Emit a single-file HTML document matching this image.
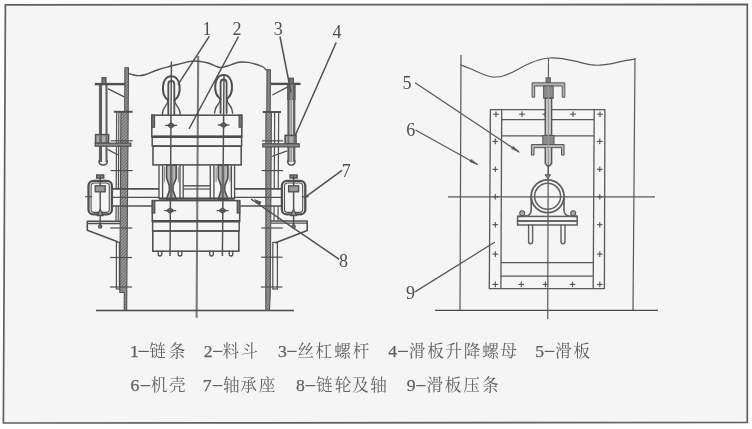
<!DOCTYPE html>
<html lang="zh"><head><meta charset="utf-8"><title>Figure</title>
<style>
html,body{margin:0;padding:0;background:#fcfcfc;overflow:hidden;}
body{width:752px;height:429px;overflow:hidden;position:relative;font-family:"Liberation Serif",serif;}
svg{position:absolute;left:0;top:0;display:block;}
svg text{font-family:"Liberation Serif",serif;}
.cap{position:absolute;left:130px;margin:0;font-size:16px;line-height:18px;color:transparent;white-space:nowrap;font-family:"Liberation Serif",serif;}
</style></head><body>
<svg width="752" height="429" viewBox="0 0 752 429">
<defs>
<pattern id="hatch" width="2.2" height="2.2" patternUnits="userSpaceOnUse" patternTransform="rotate(45)">
<rect width="2.2" height="2.2" fill="#989898"/><line x1="0" y1="0" x2="0" y2="2.2" stroke="#5c5c5c" stroke-width="1.2"/>
</pattern>
<filter id="soft" x="-2%" y="-2%" width="104%" height="104%"><feGaussianBlur stdDeviation="0.32"/></filter>
</defs>
<g filter="url(#soft)">
<polygon points="5.4,4.8 747.3,4.4 747.3,422.4 3.4,423" fill="#f5f5f5" stroke="#5e5e5e" stroke-width="1.7"/>
<g id="left">
<line x1="198.2" y1="56" x2="196.6" y2="317.7" stroke="#7a7a7a" stroke-width="2.04" />
<line x1="96" y1="310.5" x2="294" y2="310.5" stroke="#484848" stroke-width="1.62" />
<path d="M128.8 73.6 C129.5 73.8 131.47 74.47 133 74.8 C134.53 75.13 136 75.6 138 75.6 C140 75.6 141.67 75.78 145 74.8 C148.33 73.82 153.6 71.17 158 69.7 C162.4 68.23 166.23 67.35 171.4 66 C176.57 64.65 184.57 62.4 189 61.6 C193.43 60.8 194.83 60.97 198 61.2 C201.17 61.43 204.33 61.95 208 63 C211.67 64.05 216.83 67 220 67.5 C223.17 68 223.83 66.87 227 66 C230.17 65.13 235.5 62.9 239 62.3 C242.5 61.7 244.92 61.98 248 62.4 C251.08 62.82 255 64.03 257.5 64.8 C260 65.57 261.5 66.13 263 67 C264.5 67.87 265.92 69.5 266.5 70" fill="none" stroke="#505050" stroke-width="1.44" stroke-linejoin="round" stroke-linecap="round"/>
<polygon points="124.9,67.8 128.5,67.8 128.2,111.5 126.8,292.5 126.7,310.3 124.2,310.3 124.3,292.5 119.8,292.5 120.9,111.5 124.7,111.5" fill="url(#hatch)" stroke="#505050" stroke-width="1.08" stroke-linejoin="miter"/>
<line x1="116.68" y1="111.5" x2="116.21" y2="189" stroke="#505050" stroke-width="1.2" />
<line x1="118.88" y1="111.5" x2="118.41" y2="189" stroke="#505050" stroke-width="1.2" />
<line x1="116.1" y1="206" x2="116.01" y2="221" stroke="#505050" stroke-width="1.2" />
<line x1="118.3" y1="206" x2="118.21" y2="221" stroke="#505050" stroke-width="1.2" />
<rect x="116.4" y="242.2" width="3" height="46.8" rx="0" fill="none" stroke="#505050" stroke-width="1.2"/>
<line x1="113.8" y1="111.8" x2="132.6" y2="111.8" stroke="#505050" stroke-width="1.92" />
<line x1="110.8" y1="140.8" x2="132.8" y2="140.8" stroke="#505050" stroke-width="1.2" />
<line x1="110.62" y1="170.6" x2="132.62" y2="170.6" stroke="#505050" stroke-width="1.2" />
<line x1="110.27" y1="228" x2="132.27" y2="228" stroke="#505050" stroke-width="1.2" />
<line x1="110.09" y1="257.5" x2="132.09" y2="257.5" stroke="#505050" stroke-width="1.2" />
<line x1="109.91" y1="287" x2="131.91" y2="287" stroke="#505050" stroke-width="1.2" />
<polygon points="267,69.8 270.4,69.8 270.2,112 271.4,112 270.3,292.5 269.5,310.3 265.8,310.3 265.8,292.5 265.9,112 266.8,112" fill="url(#hatch)" stroke="#505050" stroke-width="1.08" stroke-linejoin="miter"/>
<line x1="274.68" y1="112" x2="274.21" y2="189" stroke="#505050" stroke-width="1.2" />
<line x1="278.68" y1="112" x2="278.21" y2="189" stroke="#505050" stroke-width="1.2" />
<line x1="274.1" y1="206" x2="274.01" y2="221" stroke="#505050" stroke-width="1.2" />
<line x1="278.1" y1="206" x2="278.01" y2="221" stroke="#505050" stroke-width="1.2" />
<rect x="272.8" y="242.4" width="4.6" height="46.6" rx="0" fill="none" stroke="#505050" stroke-width="1.2"/>
<line x1="262.6" y1="112" x2="281" y2="112" stroke="#505050" stroke-width="1.92" />
<line x1="261.8" y1="140.8" x2="283.3" y2="140.8" stroke="#505050" stroke-width="1.2" />
<line x1="261.62" y1="170.6" x2="283.12" y2="170.6" stroke="#505050" stroke-width="1.2" />
<line x1="261.27" y1="228" x2="282.77" y2="228" stroke="#505050" stroke-width="1.2" />
<line x1="261.09" y1="257.2" x2="282.59" y2="257.2" stroke="#505050" stroke-width="1.2" />
<line x1="260.91" y1="287" x2="282.41" y2="287" stroke="#505050" stroke-width="1.2" />
<line x1="94.8" y1="84.1" x2="125" y2="84.1" stroke="#505050" stroke-width="2.4" />
<rect x="102" y="77.7" width="4" height="6" rx="0" fill="#777" stroke="#505050" stroke-width="1.2"/>
<line x1="100.5" y1="85" x2="100.5" y2="162" stroke="#5e5e5e" stroke-width="3.12" />
<line x1="106.5" y1="85" x2="106.5" y2="162" stroke="#5e5e5e" stroke-width="2.04" />
<path d="M98.9 161 Q98.9 165 103 165 Q107.4 165 107.4 161" fill="none" stroke="#505050" stroke-width="1.44" stroke-linejoin="round" stroke-linecap="round"/>
<rect x="95.6" y="134.6" width="13" height="8.6" rx="0" fill="#aaa" stroke="#505050" stroke-width="1.56"/>
<line x1="100.5" y1="135" x2="100.5" y2="143" stroke="#707070" stroke-width="3.12" />
<line x1="106.5" y1="135" x2="106.5" y2="143" stroke="#707070" stroke-width="2.04" />
<rect x="95.2" y="143.2" width="35.6" height="3" rx="0" fill="#8a8a8a" stroke="#505050" stroke-width="1.2"/>
<line x1="107.8" y1="88.7" x2="124.2" y2="96.9" stroke="#505050" stroke-width="1.32" />
<line x1="107.7" y1="149.4" x2="118" y2="155" stroke="#505050" stroke-width="1.32" />
<line x1="270.6" y1="83.9" x2="300.5" y2="83.9" stroke="#505050" stroke-width="2.4" />
<rect x="289.4" y="78.2" width="4" height="6" rx="0" fill="#777" stroke="#505050" stroke-width="1.2"/>
<rect x="287.8" y="84" width="7.1" height="15.5" rx="0" fill="#8a8a8a" stroke="#505050" stroke-width="1.2"/>
<line x1="288.5" y1="85" x2="288.5" y2="162" stroke="#5e5e5e" stroke-width="2.28" />
<line x1="294.2" y1="85" x2="294.2" y2="162" stroke="#5e5e5e" stroke-width="2.28" />
<line x1="291.3" y1="99" x2="291.3" y2="162" stroke="#9a9a9a" stroke-width="2.16" />
<path d="M287.7 161 Q287.7 165.2 291.3 165.2 Q295 165.2 295 161" fill="none" stroke="#505050" stroke-width="1.44" stroke-linejoin="round" stroke-linecap="round"/>
<rect x="285.1" y="135.4" width="10.9" height="8.3" rx="0" fill="#aaa" stroke="#505050" stroke-width="1.56"/>
<line x1="288.4" y1="136" x2="288.4" y2="143.5" stroke="#707070" stroke-width="1.8" />
<line x1="294.3" y1="136" x2="294.3" y2="143.5" stroke="#707070" stroke-width="1.8" />
<rect x="262.8" y="143.8" width="36.4" height="3.1" rx="0" fill="#8a8a8a" stroke="#505050" stroke-width="1.2"/>
<line x1="272.4" y1="95" x2="287.8" y2="86.8" stroke="#505050" stroke-width="1.32" />
<line x1="271.7" y1="156.5" x2="287" y2="150.8" stroke="#505050" stroke-width="1.32" />
<path d="M168.1 100.3 C160.3 94.3 161.3 76.3 171.3 76.3 C181.3 76.3 182.3 94.3 174.5 100.3" fill="none" stroke="#505050" stroke-width="2.04" stroke-linejoin="round" stroke-linecap="round"/>
<path d="M168.3 114.3 L168.3 84.3 Q168.3 80.8 171.3 80.8 Q174.3 80.8 174.3 84.3 L174.3 114.3" fill="none" stroke="#505050" stroke-width="1.8" stroke-linejoin="round" stroke-linecap="round"/>
<path d="M162.3 114.3 C162.3 106.3 167.8 106.3 168.1 100.3" fill="none" stroke="#505050" stroke-width="1.44" stroke-linejoin="round" stroke-linecap="round"/>
<path d="M180.3 114.3 C180.3 106.3 174.8 106.3 174.5 100.3" fill="none" stroke="#505050" stroke-width="1.44" stroke-linejoin="round" stroke-linecap="round"/>
<path d="M220.4 99 C212.6 93 213.6 75 223.6 75 C233.6 75 234.6 93 226.8 99" fill="none" stroke="#505050" stroke-width="2.04" stroke-linejoin="round" stroke-linecap="round"/>
<path d="M220.6 113 L220.6 83 Q220.6 79.5 223.6 79.5 Q226.6 79.5 226.6 83 L226.6 113" fill="none" stroke="#505050" stroke-width="1.8" stroke-linejoin="round" stroke-linecap="round"/>
<path d="M214.6 113 C214.6 105 220.1 105 220.4 99" fill="none" stroke="#505050" stroke-width="1.44" stroke-linejoin="round" stroke-linecap="round"/>
<path d="M232.6 113 C232.6 105 227.1 105 226.8 99" fill="none" stroke="#505050" stroke-width="1.44" stroke-linejoin="round" stroke-linecap="round"/>
<line x1="171.4" y1="61.6" x2="170" y2="256" stroke="#505050" stroke-width="1.44" />
<line x1="224" y1="74" x2="222.4" y2="256" stroke="#505050" stroke-width="1.44" />
<rect x="151.8" y="115.2" width="90" height="21.4" rx="0" fill="none" stroke="#505050" stroke-width="1.56"/>
<rect x="151.8" y="115.2" width="2.7" height="12" rx="0" fill="#777" stroke="#505050" stroke-width="1.2"/>
<rect x="239.1" y="115.2" width="2.7" height="12" rx="0" fill="#777" stroke="#505050" stroke-width="1.2"/>
<line x1="152.4" y1="136.7" x2="241.4" y2="136.7" stroke="#484848" stroke-width="2.52" />
<rect x="152.2" y="136.7" width="89.4" height="9.4" rx="0" fill="none" stroke="#505050" stroke-width="1.44"/>
<rect x="153" y="146.1" width="88.2" height="18.8" rx="0" fill="none" stroke="#505050" stroke-width="1.56"/>
<polygon points="167.7,125.4 171.1,122.8 174.5,125.4 171.1,128" fill="#707070" stroke="#505050" stroke-width="1.2" stroke-linejoin="round" stroke-linecap="round"/>
<line x1="165.1" y1="125.4" x2="177.1" y2="125.4" stroke="#505050" stroke-width="1.2" />
<polygon points="220.2,125 223.6,122.4 227,125 223.6,127.6" fill="#707070" stroke="#505050" stroke-width="1.2" stroke-linejoin="round" stroke-linecap="round"/>
<line x1="217.6" y1="125" x2="229.6" y2="125" stroke="#505050" stroke-width="1.2" />
<line x1="159" y1="165.2" x2="159" y2="199" stroke="#505050" stroke-width="1.32" />
<line x1="162.6" y1="165.2" x2="162.6" y2="199" stroke="#505050" stroke-width="1.32" />
<line x1="180" y1="165.2" x2="180" y2="199" stroke="#505050" stroke-width="1.32" />
<line x1="183.2" y1="165.2" x2="183.2" y2="199" stroke="#505050" stroke-width="1.32" />
<path d="M166.6 165.2 L166.6 178 L169.4 186 L169.4 190.5 L166.6 199 L176.2 199 L173 190.5 L173 186 L176.2 178 L176.2 165.2 Z" fill="#b4b4b4" stroke="#505050" stroke-width="1.68" stroke-linejoin="round" stroke-linecap="round"/>
<line x1="171.2" y1="165.2" x2="171.2" y2="199" stroke="#6a6a6a" stroke-width="2.64" />
<line x1="164.4" y1="167" x2="164.4" y2="182" stroke="#888" stroke-width="1.08" />
<line x1="178.4" y1="167" x2="178.4" y2="182" stroke="#888" stroke-width="1.08" />
<line x1="210.3" y1="165.2" x2="210.3" y2="199" stroke="#505050" stroke-width="1.32" />
<line x1="213.9" y1="165.2" x2="213.9" y2="199" stroke="#505050" stroke-width="1.32" />
<line x1="231.4" y1="165.2" x2="231.4" y2="199" stroke="#505050" stroke-width="1.32" />
<line x1="234.6" y1="165.2" x2="234.6" y2="199" stroke="#505050" stroke-width="1.32" />
<path d="M218.3 165.2 L218.3 178 L221.1 186 L221.1 190.5 L218.3 199 L227.9 199 L224.7 190.5 L224.7 186 L227.9 178 L227.9 165.2 Z" fill="#b4b4b4" stroke="#505050" stroke-width="1.68" stroke-linejoin="round" stroke-linecap="round"/>
<line x1="222.9" y1="165.2" x2="222.9" y2="199" stroke="#6a6a6a" stroke-width="2.64" />
<line x1="216.1" y1="167" x2="216.1" y2="182" stroke="#888" stroke-width="1.08" />
<line x1="230.1" y1="167" x2="230.1" y2="182" stroke="#888" stroke-width="1.08" />
<line x1="183.2" y1="185.8" x2="210.3" y2="185.8" stroke="#505050" stroke-width="1.44" />
<line x1="183.2" y1="189" x2="210.3" y2="189" stroke="#505050" stroke-width="1.2" />
<line x1="159" y1="198.6" x2="234.6" y2="198.6" stroke="#484848" stroke-width="2.16" />
<line x1="111.7" y1="188.9" x2="159" y2="188.9" stroke="#505050" stroke-width="1.56" />
<line x1="111.7" y1="197.3" x2="159" y2="197.3" stroke="#505050" stroke-width="1.32" />
<line x1="234.6" y1="188.9" x2="282" y2="188.9" stroke="#505050" stroke-width="1.56" />
<line x1="234.6" y1="197.3" x2="282" y2="197.3" stroke="#505050" stroke-width="1.32" />
<line x1="111.7" y1="206" x2="152.4" y2="206" stroke="#505050" stroke-width="1.56" />
<line x1="240.4" y1="206" x2="282" y2="206" stroke="#505050" stroke-width="1.56" />
<rect x="152.3" y="200.6" width="87.4" height="20.6" rx="0" fill="none" stroke="#505050" stroke-width="1.56"/>
<rect x="152.3" y="201" width="2.5" height="12" rx="0" fill="#777" stroke="#505050" stroke-width="1.2"/>
<rect x="237.2" y="201" width="2.5" height="12" rx="0" fill="#777" stroke="#505050" stroke-width="1.2"/>
<line x1="152.3" y1="221.2" x2="239.7" y2="221.2" stroke="#484848" stroke-width="2.4" />
<rect x="152.6" y="221.2" width="86.6" height="9.8" rx="0" fill="none" stroke="#505050" stroke-width="1.44"/>
<rect x="152.8" y="231" width="86" height="20.2" rx="0" fill="none" stroke="#505050" stroke-width="1.56"/>
<path d="M158.2 251.2 L158.2 254 Q158.2 256 160 256 Q161.8 256 161.8 254 L161.8 251.2" fill="none" stroke="#505050" stroke-width="1.32" stroke-linejoin="round" stroke-linecap="round"/>
<path d="M178.2 251.2 L178.2 254 Q178.2 256 180 256 Q181.8 256 181.8 254 L181.8 251.2" fill="none" stroke="#505050" stroke-width="1.32" stroke-linejoin="round" stroke-linecap="round"/>
<path d="M209.7 251.2 L209.7 254 Q209.7 256 211.5 256 Q213.3 256 213.3 254 L213.3 251.2" fill="none" stroke="#505050" stroke-width="1.32" stroke-linejoin="round" stroke-linecap="round"/>
<path d="M229.2 251.2 L229.2 254 Q229.2 256 231 256 Q232.8 256 232.8 254 L232.8 251.2" fill="none" stroke="#505050" stroke-width="1.32" stroke-linejoin="round" stroke-linecap="round"/>
<polygon points="166.8,210.6 170.2,208 173.6,210.6 170.2,213.2" fill="#707070" stroke="#505050" stroke-width="1.2" stroke-linejoin="round" stroke-linecap="round"/>
<line x1="164.2" y1="210.6" x2="176.2" y2="210.6" stroke="#505050" stroke-width="1.2" />
<polygon points="219.2,210.6 222.6,208 226,210.6 222.6,213.2" fill="#707070" stroke="#505050" stroke-width="1.2" stroke-linejoin="round" stroke-linecap="round"/>
<line x1="216.6" y1="210.6" x2="228.6" y2="210.6" stroke="#505050" stroke-width="1.2" />
<rect x="88.5" y="180.8" width="23.4" height="33.6" rx="5" fill="none" stroke="#505050" stroke-width="2.28"/>
<rect x="91.1" y="183" width="18.2" height="29.4" rx="3.2" fill="none" stroke="#505050" stroke-width="1.08"/>
<rect x="96.7" y="175" width="7" height="3" rx="0" fill="#888" stroke="#505050" stroke-width="1.44"/>
<line x1="100.2" y1="176" x2="100.2" y2="226" stroke="#505050" stroke-width="1.44" />
<rect x="95.2" y="185.8" width="10" height="6" rx="0" fill="#999" stroke="#505050" stroke-width="1.32"/>
<polygon points="97.2,215.5 100.2,209.5 103.2,215.5" fill="#999" stroke="#505050" stroke-width="1.32" stroke-linejoin="round" stroke-linecap="round"/>
<line x1="85.2" y1="196.7" x2="92.2" y2="196.7" stroke="#505050" stroke-width="1.2" />
<circle cx="100.2" cy="226.5" r="1.6" fill="#888" stroke="#505050" stroke-width="1.2"/>
<rect x="281.9" y="180.8" width="23.4" height="33.6" rx="5" fill="none" stroke="#505050" stroke-width="2.28"/>
<rect x="284.5" y="183" width="18.2" height="29.4" rx="3.2" fill="none" stroke="#505050" stroke-width="1.08"/>
<rect x="290.1" y="175" width="7" height="3" rx="0" fill="#888" stroke="#505050" stroke-width="1.44"/>
<line x1="293.6" y1="176" x2="293.6" y2="226" stroke="#505050" stroke-width="1.44" />
<rect x="288.6" y="185.8" width="10" height="6" rx="0" fill="#999" stroke="#505050" stroke-width="1.32"/>
<polygon points="290.6,215.5 293.6,209.5 296.6,215.5" fill="#999" stroke="#505050" stroke-width="1.32" stroke-linejoin="round" stroke-linecap="round"/>
<line x1="301.6" y1="196.7" x2="308.6" y2="196.7" stroke="#505050" stroke-width="1.2" />
<circle cx="293.6" cy="226.5" r="1.6" fill="#888" stroke="#505050" stroke-width="1.2"/>
<polyline points="120,221.4 87.3,221.4 87.3,230.3 117,241.4" fill="none" stroke="#505050" stroke-width="1.56" stroke-linejoin="round" stroke-linecap="round"/>
<line x1="87.3" y1="223.6" x2="120" y2="223.6" stroke="#505050" stroke-width="1.2" />
<polyline points="271,221 307.2,221 307.2,230.6 275.6,242.8" fill="none" stroke="#505050" stroke-width="1.56" stroke-linejoin="round" stroke-linecap="round"/>
<line x1="271" y1="223.2" x2="307.2" y2="223.2" stroke="#505050" stroke-width="1.2" />
<line x1="209.4" y1="36.1" x2="178" y2="84.6" stroke="#505050" stroke-width="1.5" />
<line x1="238.5" y1="36.5" x2="189" y2="129" stroke="#505050" stroke-width="1.5" />
<line x1="280" y1="36.5" x2="291" y2="92.5" stroke="#505050" stroke-width="1.5" />
<line x1="336.2" y1="42.5" x2="295" y2="136" stroke="#505050" stroke-width="1.5" />
<line x1="342" y1="170.4" x2="306" y2="196.7" stroke="#505050" stroke-width="1.5" />
<line x1="339.2" y1="259.3" x2="251" y2="199" stroke="#505050" stroke-width="1.5" />
<polygon points="255,200 259.5,204.6 260.8,202.4" fill="#505050" stroke="#505050" stroke-width="0.96" stroke-linejoin="round" stroke-linecap="round"/>
<text x="207.1" y="34.6" font-size="18" text-anchor="middle" fill="#4f4f4f">1</text>
<text x="237" y="34.8" font-size="18" text-anchor="middle" fill="#4f4f4f">2</text>
<text x="278.2" y="34.7" font-size="18" text-anchor="middle" fill="#4f4f4f">3</text>
<text x="337.1" y="37.7" font-size="18" text-anchor="middle" fill="#4f4f4f">4</text>
<text x="346.2" y="176.9" font-size="18" text-anchor="middle" fill="#4f4f4f">7</text>
<text x="343.5" y="267" font-size="18" text-anchor="middle" fill="#4f4f4f">8</text>
</g>
<g id="right">
<line x1="461" y1="55" x2="460" y2="310.3" stroke="#585858" stroke-width="1.2" />
<line x1="635" y1="58" x2="633" y2="310.3" stroke="#585858" stroke-width="1.2" />
<path d="M461 65 C462.5 65.58 466.83 67.17 470 68.5 C473.17 69.83 476.67 71.67 480 73 C483.33 74.33 487.33 75.83 490 76.5 C492.67 77.17 493.83 77.08 496 77 C498.17 76.92 500.17 76.83 503 76 C505.83 75.17 509.33 73.75 513 72 C516.67 70.25 520.83 67.47 525 65.5 C529.17 63.53 533.83 61.45 538 60.2 C542.17 58.95 546 58.27 550 58 C554 57.73 557.83 58.07 562 58.6 C566.17 59.13 570.33 60.2 575 61.2 C579.67 62.2 585.83 63.93 590 64.6 C594.17 65.27 596.33 65.37 600 65.2 C603.67 65.03 607.83 64.37 612 63.6 C616.17 62.83 621.17 61.37 625 60.6 C628.83 59.83 633.33 59.27 635 59" fill="none" stroke="#585858" stroke-width="1.2" stroke-linejoin="round" stroke-linecap="round"/>
<line x1="435" y1="310.3" x2="658" y2="310.3" stroke="#484848" stroke-width="1.35" />
<line x1="548.4" y1="98" x2="547.7" y2="319" stroke="#585858" stroke-width="1.2" />
<line x1="448" y1="196.8" x2="655" y2="196.8" stroke="#585858" stroke-width="1.3" />
<polygon points="490.4,109.6 604.9,109.6 604.4,288.6 489.3,288.6" fill="none" stroke="#585858" stroke-width="1.3" stroke-linejoin="round" stroke-linecap="round"/>
<line x1="501.7" y1="109.6" x2="500.9" y2="288.6" stroke="#585858" stroke-width="1.3" />
<line x1="594.2" y1="109.6" x2="593.2" y2="288.6" stroke="#585858" stroke-width="1.3" />
<line x1="501.6" y1="119.6" x2="594.2" y2="119.6" stroke="#585858" stroke-width="1.1" />
<line x1="501.5" y1="135.8" x2="594.1" y2="135.8" stroke="#585858" stroke-width="1.2" />
<line x1="501" y1="262.7" x2="593.3" y2="262.7" stroke="#585858" stroke-width="1.2" />
<line x1="501" y1="276.1" x2="593.3" y2="276.1" stroke="#585858" stroke-width="1.1" />
<line x1="493.2" y1="114.2" x2="498.8" y2="114.2" stroke="#505050" stroke-width="1.1" />
<line x1="496" y1="111.4" x2="496" y2="117" stroke="#505050" stroke-width="1.1" />
<line x1="519.2" y1="114.2" x2="524.8" y2="114.2" stroke="#505050" stroke-width="1.1" />
<line x1="522" y1="111.4" x2="522" y2="117" stroke="#505050" stroke-width="1.1" />
<line x1="570.2" y1="114.2" x2="575.8" y2="114.2" stroke="#505050" stroke-width="1.1" />
<line x1="573" y1="111.4" x2="573" y2="117" stroke="#505050" stroke-width="1.1" />
<line x1="597.2" y1="114.2" x2="602.8" y2="114.2" stroke="#505050" stroke-width="1.1" />
<line x1="600" y1="111.4" x2="600" y2="117" stroke="#505050" stroke-width="1.1" />
<line x1="492.5" y1="141.4" x2="498.1" y2="141.4" stroke="#505050" stroke-width="1.1" />
<line x1="495.3" y1="138.6" x2="495.3" y2="144.2" stroke="#505050" stroke-width="1.1" />
<line x1="597" y1="141.4" x2="602.6" y2="141.4" stroke="#505050" stroke-width="1.1" />
<line x1="599.8" y1="138.6" x2="599.8" y2="144.2" stroke="#505050" stroke-width="1.1" />
<line x1="492.5" y1="169.3" x2="498.1" y2="169.3" stroke="#505050" stroke-width="1.1" />
<line x1="495.3" y1="166.5" x2="495.3" y2="172.1" stroke="#505050" stroke-width="1.1" />
<line x1="597" y1="169.3" x2="602.6" y2="169.3" stroke="#505050" stroke-width="1.1" />
<line x1="599.8" y1="166.5" x2="599.8" y2="172.1" stroke="#505050" stroke-width="1.1" />
<line x1="492.5" y1="196.8" x2="498.1" y2="196.8" stroke="#505050" stroke-width="1.1" />
<line x1="495.3" y1="194" x2="495.3" y2="199.6" stroke="#505050" stroke-width="1.1" />
<line x1="597" y1="196.8" x2="602.6" y2="196.8" stroke="#505050" stroke-width="1.1" />
<line x1="599.8" y1="194" x2="599.8" y2="199.6" stroke="#505050" stroke-width="1.1" />
<line x1="492.5" y1="224.7" x2="498.1" y2="224.7" stroke="#505050" stroke-width="1.1" />
<line x1="495.3" y1="221.9" x2="495.3" y2="227.5" stroke="#505050" stroke-width="1.1" />
<line x1="597" y1="224.7" x2="602.6" y2="224.7" stroke="#505050" stroke-width="1.1" />
<line x1="599.8" y1="221.9" x2="599.8" y2="227.5" stroke="#505050" stroke-width="1.1" />
<line x1="492.5" y1="254.1" x2="498.1" y2="254.1" stroke="#505050" stroke-width="1.1" />
<line x1="495.3" y1="251.3" x2="495.3" y2="256.9" stroke="#505050" stroke-width="1.1" />
<line x1="597" y1="254.1" x2="602.6" y2="254.1" stroke="#505050" stroke-width="1.1" />
<line x1="599.8" y1="251.3" x2="599.8" y2="256.9" stroke="#505050" stroke-width="1.1" />
<line x1="492.5" y1="284.4" x2="498.1" y2="284.4" stroke="#505050" stroke-width="1.1" />
<line x1="495.3" y1="281.6" x2="495.3" y2="287.2" stroke="#505050" stroke-width="1.1" />
<line x1="597" y1="284.4" x2="602.6" y2="284.4" stroke="#505050" stroke-width="1.1" />
<line x1="599.8" y1="281.6" x2="599.8" y2="287.2" stroke="#505050" stroke-width="1.1" />
<line x1="518.5" y1="284.4" x2="524.1" y2="284.4" stroke="#505050" stroke-width="1.1" />
<line x1="521.3" y1="281.6" x2="521.3" y2="287.2" stroke="#505050" stroke-width="1.1" />
<line x1="542.6" y1="284.4" x2="548.2" y2="284.4" stroke="#505050" stroke-width="1.1" />
<line x1="545.4" y1="281.6" x2="545.4" y2="287.2" stroke="#505050" stroke-width="1.1" />
<line x1="569.7" y1="284.4" x2="575.3" y2="284.4" stroke="#505050" stroke-width="1.1" />
<line x1="572.5" y1="281.6" x2="572.5" y2="287.2" stroke="#505050" stroke-width="1.1" />
<line x1="542.4" y1="114.2" x2="548" y2="114.2" stroke="#505050" stroke-width="1.1" />
<line x1="545.2" y1="111.4" x2="545.2" y2="117" stroke="#505050" stroke-width="1.1" />
<line x1="548.5" y1="58.3" x2="548.4" y2="78" stroke="#585858" stroke-width="1.1" />
<rect x="546" y="77.8" width="4.4" height="5" rx="0" fill="#7a7a7a" stroke="#585858" stroke-width="0.9"/>
<path d="M532.1 82.8 H564.8 V97.2 H562.2 V86 H534.7 V97.2 H532.1 Z" fill="#b4b4b4" stroke="#4c4c4c" stroke-width="0.9"/>
<rect x="543.6" y="86" width="9.6" height="12.2" rx="0" fill="#8a8a8a" stroke="#585858" stroke-width="1"/>
<rect x="545.3" y="98.2" width="6.3" height="37.3" rx="0" fill="#cfcfcf" stroke="#585858" stroke-width="1.5"/>
<rect x="542.8" y="135.5" width="11.2" height="9" rx="0" fill="#8a8a8a" stroke="#585858" stroke-width="1"/>
<path d="M531.4 144.5 H564.1 V155.1 H561.5 V147.7 H534 V155.1 H531.4 Z" fill="#b4b4b4" stroke="#4c4c4c" stroke-width="0.9"/>
<path d="M545.3 147.7 V163.2 L547 165.7 H549.8 L551.6 163.2 V147.7" fill="#cfcfcf" stroke="#585858" stroke-width="1.5" stroke-linejoin="round" stroke-linecap="round"/>
<line x1="548.4" y1="86" x2="548.4" y2="165" stroke="#9a9a9a" stroke-width="1.2" />
<line x1="548.3" y1="165.7" x2="548.3" y2="175.5" stroke="#585858" stroke-width="1.1" />
<polygon points="545.4,174.8 550.6,174.8 548,178.4" fill="#888" stroke="#585858" stroke-width="1" stroke-linejoin="round" stroke-linecap="round"/>
<circle cx="547.6" cy="196.3" r="16.4" fill="none" stroke="#5e5e5e" stroke-width="1.8"/>
<circle cx="547.6" cy="196.3" r="13" fill="none" stroke="#5e5e5e" stroke-width="1.5"/>
<path d="M531.2 196.3 L531.2 210.5 Q531 215.6 525 216.2 L518 216.4" fill="none" stroke="#5e5e5e" stroke-width="1.6" stroke-linejoin="round" stroke-linecap="round"/>
<path d="M564 196.3 L564 210.5 Q564.2 215.6 570.2 216.2 L577.2 216.4" fill="none" stroke="#5e5e5e" stroke-width="1.6" stroke-linejoin="round" stroke-linecap="round"/>
<rect x="517.6" y="216.4" width="59.6" height="4.6" rx="0" fill="none" stroke="#5e5e5e" stroke-width="1.5"/>
<rect x="517.6" y="221" width="59.6" height="4" rx="0" fill="none" stroke="#5e5e5e" stroke-width="1.5"/>
<circle cx="522.2" cy="213.3" r="2.5" fill="#aaa" stroke="#585858" stroke-width="1.1"/>
<circle cx="573.2" cy="213.3" r="2.5" fill="#aaa" stroke="#585858" stroke-width="1.1"/>
<path d="M528.6 225 L528.6 241.6 Q528.6 243.8 530.6 243.8 Q532.6 243.8 532.6 241.6 L532.6 225" fill="none" stroke="#5e5e5e" stroke-width="1.4" stroke-linejoin="round" stroke-linecap="round"/>
<path d="M561 225 L561 241.6 Q561 243.8 563 243.8 Q565 243.8 565 241.6 L565 225" fill="none" stroke="#5e5e5e" stroke-width="1.4" stroke-linejoin="round" stroke-linecap="round"/>
<line x1="415.1" y1="82.7" x2="519" y2="152" stroke="#585858" stroke-width="1.25" />
<polygon points="519,152 511.62,148.64 513.07,146.48" fill="#585858" stroke="#585858" stroke-width="0.6" stroke-linejoin="round" stroke-linecap="round"/>
<line x1="415.5" y1="130" x2="477.5" y2="164.5" stroke="#585858" stroke-width="1.25" />
<polygon points="477.5,164.5 469.88,161.75 471.14,159.47" fill="#585858" stroke="#585858" stroke-width="0.6" stroke-linejoin="round" stroke-linecap="round"/>
<line x1="415" y1="291.9" x2="495" y2="242" stroke="#585858" stroke-width="1.25" />
<text x="407.1" y="88.6" font-size="18" text-anchor="middle" fill="#4f4f4f">5</text>
<text x="410.8" y="135.6" font-size="18" text-anchor="middle" fill="#4f4f4f">6</text>
<text x="410.4" y="298.9" font-size="18" text-anchor="middle" fill="#4f4f4f">9</text>
</g>
<g id="caption">
<text x="134.3" y="357.1" font-size="17.6" text-anchor="middle" fill="#606060" stroke="#606060" stroke-width="0.25">1</text>
<line x1="138.4" y1="351.4" x2="148.8" y2="351.4" stroke="#5e5e5e" stroke-width="1.2" />
<text x="149.3 168.7" y="357.1" font-size="16.6" fill="#626262" style="font-family:'Liberation Serif','Noto Serif CJK SC',serif;">链条</text>
<text x="208.2" y="357.1" font-size="17.6" text-anchor="middle" fill="#606060" stroke="#606060" stroke-width="0.25">2</text>
<line x1="213" y1="351.4" x2="222.4" y2="351.4" stroke="#5e5e5e" stroke-width="1.2" />
<text x="222.6 241.2" y="357.1" font-size="16.6" fill="#626262" style="font-family:'Liberation Serif','Noto Serif CJK SC',serif;">料斗</text>
<text x="282.4" y="357.1" font-size="17.6" text-anchor="middle" fill="#606060" stroke="#606060" stroke-width="0.25">3</text>
<line x1="287.2" y1="351.4" x2="296.6" y2="351.4" stroke="#5e5e5e" stroke-width="1.2" />
<text x="297.5 315.6 334.3 352.7" y="357.1" font-size="16.6" fill="#626262" style="font-family:'Liberation Serif','Noto Serif CJK SC',serif;">丝杠螺杆</text>
<text x="392.7" y="357.1" font-size="17.6" text-anchor="middle" fill="#606060" stroke="#606060" stroke-width="0.25">4</text>
<line x1="398" y1="351.4" x2="408" y2="351.4" stroke="#5e5e5e" stroke-width="1.2" />
<text x="408.8 427.2 445.5 463.7 482.2 500.2" y="357.1" font-size="16.6" fill="#626262" style="font-family:'Liberation Serif','Noto Serif CJK SC',serif;">滑板升降螺母</text>
<text x="539.7" y="357.1" font-size="17.6" text-anchor="middle" fill="#606060" stroke="#606060" stroke-width="0.25">5</text>
<line x1="544.8" y1="351.4" x2="554.4" y2="351.4" stroke="#5e5e5e" stroke-width="1.2" />
<text x="555.1 573.4" y="357.1" font-size="16.6" fill="#626262" style="font-family:'Liberation Serif','Noto Serif CJK SC',serif;">滑板</text>
<text x="135" y="391.2" font-size="17.6" text-anchor="middle" fill="#606060" stroke="#606060" stroke-width="0.25">6</text>
<line x1="140.4" y1="385.6" x2="150.2" y2="385.6" stroke="#5e5e5e" stroke-width="1.2" />
<text x="150.7 169" y="391.2" font-size="16.6" fill="#626262" style="font-family:'Liberation Serif','Noto Serif CJK SC',serif;">机壳</text>
<text x="207.2" y="391.2" font-size="17.6" text-anchor="middle" fill="#606060" stroke="#606060" stroke-width="0.25">7</text>
<line x1="212.6" y1="385.6" x2="222.4" y2="385.6" stroke="#5e5e5e" stroke-width="1.2" />
<text x="223.1 240.2 258.8" y="391.2" font-size="16.6" fill="#626262" style="font-family:'Liberation Serif','Noto Serif CJK SC',serif;">轴承座</text>
<text x="300.4" y="391.2" font-size="17.6" text-anchor="middle" fill="#606060" stroke="#606060" stroke-width="0.25">8</text>
<line x1="305.4" y1="385.6" x2="315.2" y2="385.6" stroke="#5e5e5e" stroke-width="1.2" />
<text x="316.1 334.7 352.3 370.3" y="391.2" font-size="16.6" fill="#626262" style="font-family:'Liberation Serif','Noto Serif CJK SC',serif;">链轮及轴</text>
<text x="411.1" y="391.2" font-size="17.6" text-anchor="middle" fill="#606060" stroke="#606060" stroke-width="0.25">9</text>
<line x1="416.2" y1="385.6" x2="425.6" y2="385.6" stroke="#5e5e5e" stroke-width="1.2" />
<text x="426.6 444.8 463.3 481.9" y="391.2" font-size="16.6" fill="#626262" style="font-family:'Liberation Serif','Noto Serif CJK SC',serif;">滑板压条</text>
</g>
</g>
</svg>
<p class="cap" style="top:341px">1-链条　2-料斗　3-丝杠螺杆　4-滑板升降螺母　5-滑板</p>
<p class="cap" style="top:375px">6-机壳　7-轴承座　8-链轮及轴　9-滑板压条</p>
</body></html>
